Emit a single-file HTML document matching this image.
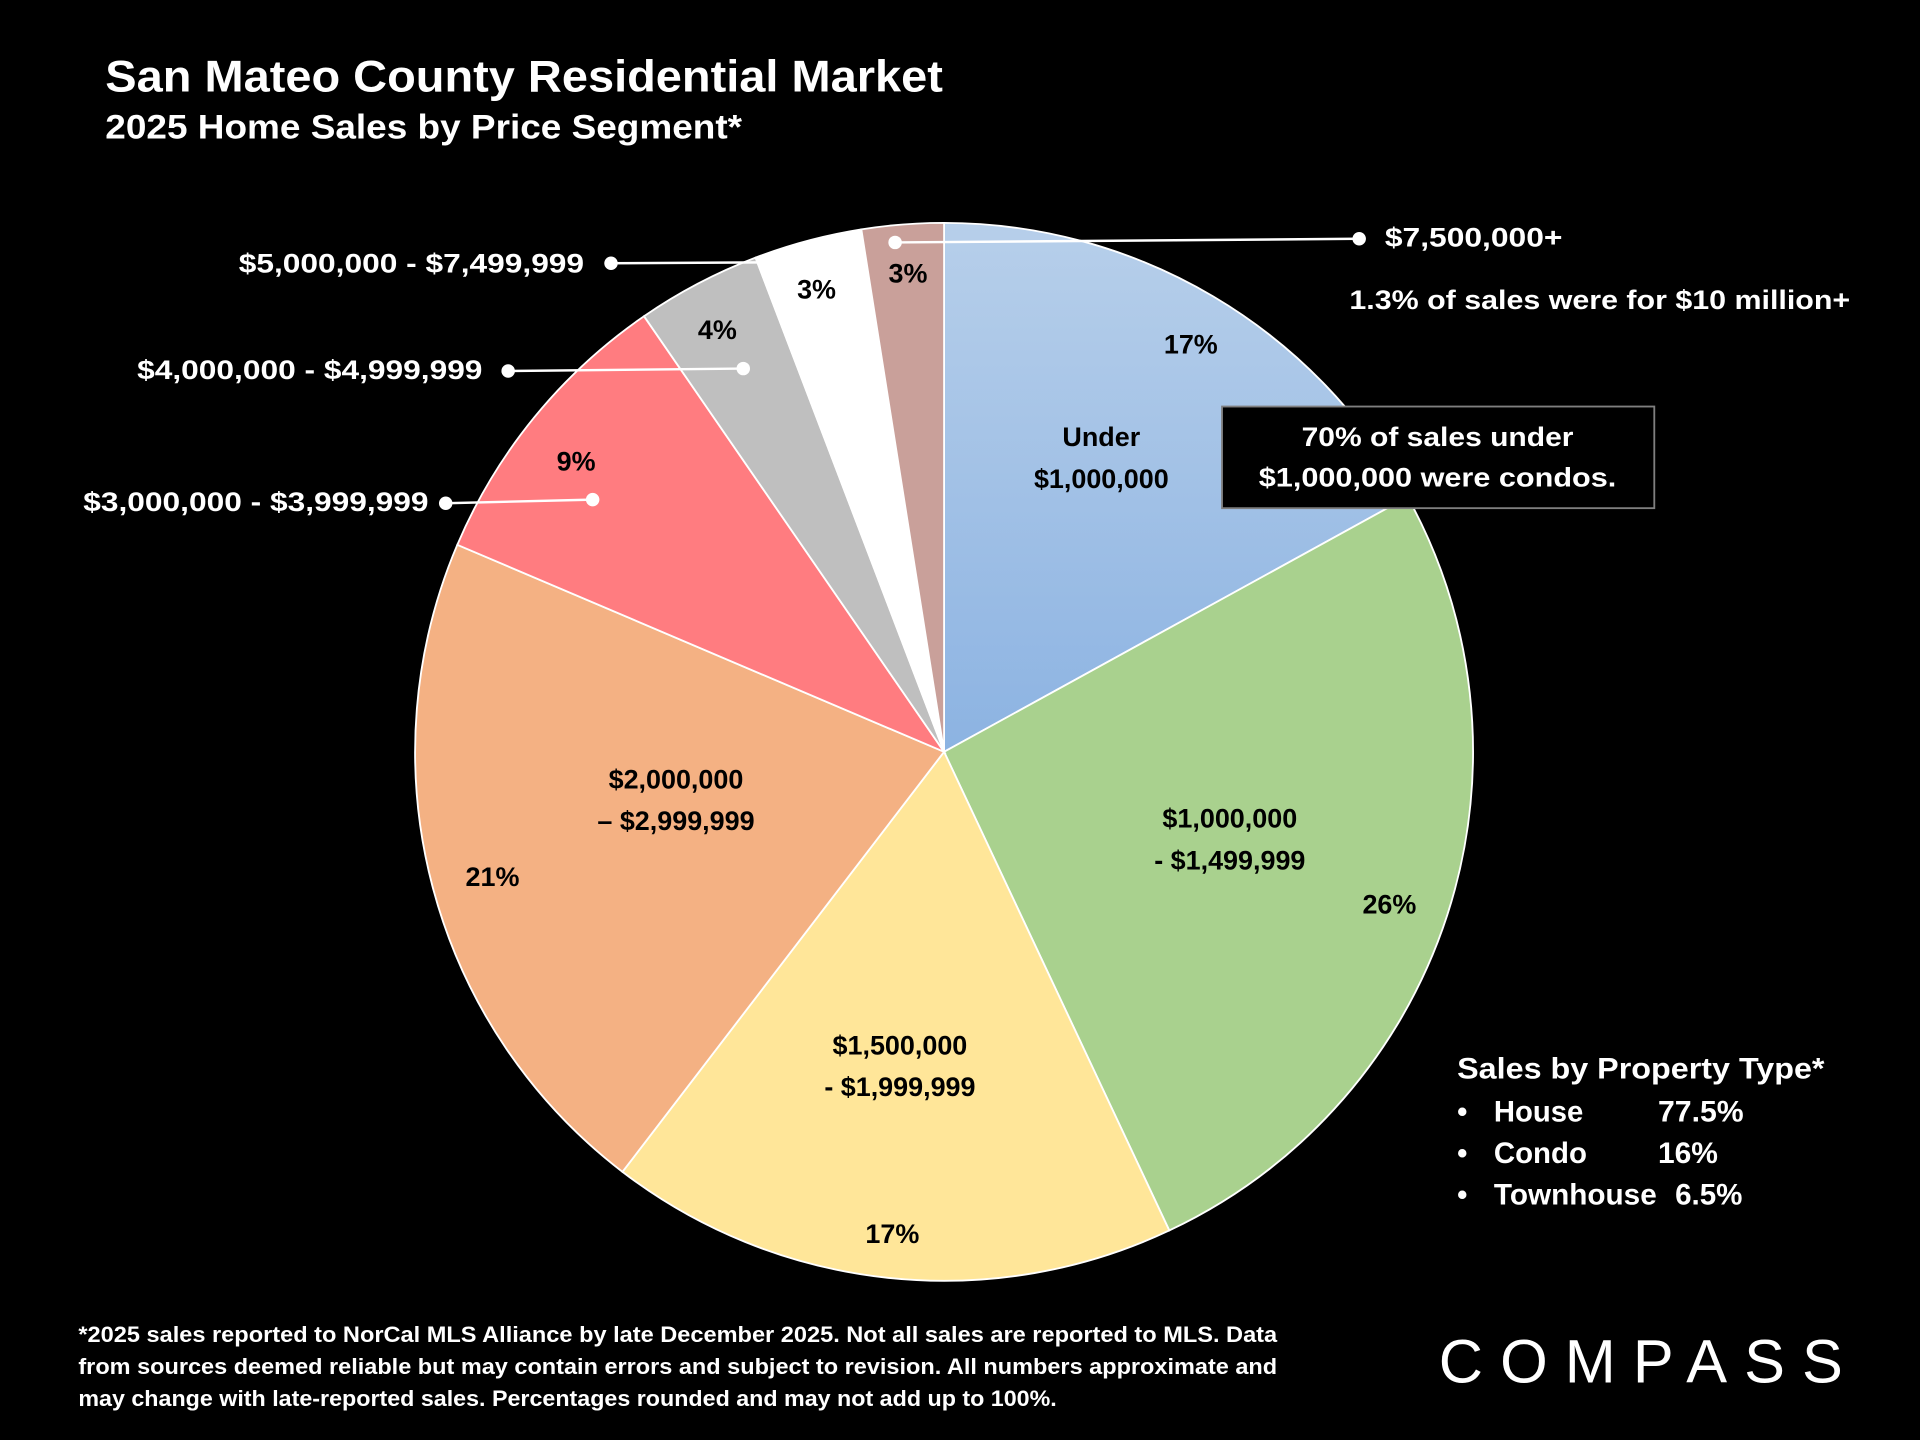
<!DOCTYPE html>
<html><head><meta charset="utf-8"><style>
html,body{margin:0;padding:0;background:#000;}
svg{display:block;}
text{font-family:"Liberation Sans",sans-serif;font-weight:bold;}
</style></head><body>
<svg id="chart" width="1920" height="1440" viewBox="0 0 1568 1176" xmlns="http://www.w3.org/2000/svg">
<defs>
<linearGradient id="blueGrad" x1="0" y1="0" x2="0" y2="1"><stop offset="0" stop-color="#b7cfea"/><stop offset="1" stop-color="#8cb3e2"/></linearGradient>
</defs>
<rect width="1568" height="1176" fill="#000"/>
<text x="86" y="63" font-size="36" fill="#fff" dominant-baseline="central" textLength="684" lengthAdjust="spacingAndGlyphs">San Mateo County Residential Market</text>
<text x="86" y="104" font-size="28" fill="#fff" dominant-baseline="central" textLength="520" lengthAdjust="spacingAndGlyphs">2025 Home Sales by Price Segment*</text>
<g id="slices"></g>
<g id="labels"></g>

<g>
<line x1="364" y1="411" x2="484" y2="408" stroke="#fff" stroke-width="2"/>
<circle cx="364" cy="411" r="5.5" fill="#fff"/><circle cx="484" cy="408" r="5.5" fill="#fff"/>
<text x="350" y="410" font-size="22" fill="#fff" text-anchor="end" dominant-baseline="central" textLength="282" lengthAdjust="spacingAndGlyphs">$3,000,000 - $3,999,999</text>
</g>
<g>
<line x1="415" y1="303" x2="607" y2="301" stroke="#fff" stroke-width="2"/>
<circle cx="415" cy="303" r="5.5" fill="#fff"/><circle cx="607" cy="301" r="5.5" fill="#fff"/>
<text x="394" y="302" font-size="22" fill="#fff" text-anchor="end" dominant-baseline="central" textLength="282" lengthAdjust="spacingAndGlyphs">$4,000,000 - $4,999,999</text>
</g>
<g>
<line x1="499" y1="215" x2="670" y2="214" stroke="#fff" stroke-width="2"/>
<circle cx="499" cy="215" r="5.5" fill="#fff"/><circle cx="670" cy="214" r="5.5" fill="#fff"/>
<text x="477" y="215" font-size="22" fill="#fff" text-anchor="end" dominant-baseline="central" textLength="282" lengthAdjust="spacingAndGlyphs">$5,000,000 - $7,499,999</text>
</g>
<g>
<line x1="731" y1="198" x2="1110" y2="195" stroke="#fff" stroke-width="2"/>
<circle cx="731" cy="198" r="5.5" fill="#fff"/><circle cx="1110" cy="195" r="5.5" fill="#fff"/>
<text x="1131" y="194" font-size="22" fill="#fff" dominant-baseline="central" textLength="145" lengthAdjust="spacingAndGlyphs">$7,500,000+</text>
</g>
<text x="1102" y="245" font-size="22" fill="#fff" dominant-baseline="central" textLength="409" lengthAdjust="spacingAndGlyphs">1.3% of sales were for $10 million+</text>

<g>
<rect x="998" y="332" width="353" height="83" fill="#000" stroke="#7f7f7f" stroke-width="1.5"/>
<text x="1174" y="357" font-size="22" fill="#fff" text-anchor="middle" dominant-baseline="central" textLength="222" lengthAdjust="spacingAndGlyphs">70% of sales under</text>
<text x="1174" y="390" font-size="22" fill="#fff" text-anchor="middle" dominant-baseline="central" textLength="292" lengthAdjust="spacingAndGlyphs">$1,000,000 were condos.</text>
</g>

<g fill="#fff" font-size="24">
<text x="1190" y="873" dominant-baseline="central" textLength="300" lengthAdjust="spacingAndGlyphs">Sales by Property Type*</text>
<text x="1190" y="908" dominant-baseline="central">•</text>
<text x="1220" y="908" dominant-baseline="central" textLength="73" lengthAdjust="spacingAndGlyphs">House</text>
<text x="1354" y="908" dominant-baseline="central" textLength="70" lengthAdjust="spacingAndGlyphs">77.5%</text>
<text x="1190" y="942" dominant-baseline="central">•</text>
<text x="1220" y="942" dominant-baseline="central" textLength="76" lengthAdjust="spacingAndGlyphs">Condo</text>
<text x="1354" y="942" dominant-baseline="central" textLength="49" lengthAdjust="spacingAndGlyphs">16%</text>
<text x="1190" y="976" dominant-baseline="central">•</text>
<text x="1220" y="976" dominant-baseline="central" textLength="133" lengthAdjust="spacingAndGlyphs">Townhouse</text>
<text x="1368" y="976" dominant-baseline="central" textLength="55" lengthAdjust="spacingAndGlyphs">6.5%</text>
</g>

<g fill="#fff" font-size="18">
<text x="64" y="1090" dominant-baseline="central" textLength="979" lengthAdjust="spacingAndGlyphs">*2025 sales reported to NorCal MLS Alliance by late December 2025. Not all sales are reported to MLS. Data</text>
<text x="64" y="1116" dominant-baseline="central" textLength="979" lengthAdjust="spacingAndGlyphs">from sources deemed reliable but may contain errors and subject to revision. All numbers approximate and</text>
<text x="64" y="1142" dominant-baseline="central" textLength="799" lengthAdjust="spacingAndGlyphs">may change with late-reported sales. Percentages rounded and may not add up to 100%.</text>
</g>
<text x="1175" y="1112" font-size="50" fill="#fff" style="font-weight:normal" dominant-baseline="central" textLength="330" lengthAdjust="spacing">COMPASS</text>
</svg>
<script>
const categories = ["Under $1,000,000","$1,000,000 - $1,499,999","$1,500,000 - $1,999,999","$2,000,000 – $2,999,999","$3,000,000 - $3,999,999","$4,000,000 - $4,999,999","$5,000,000 - $7,499,999","$7,500,000+"];
const shares = [17, 26, 17.4, 21, 9, 3.8, 3.3, 2.5];
const pctLabels = ["17%","26%","17%","21%","9%","4%","3%","3%"];
const colors = ["url(#blueGrad)","#a9d18e","#ffe699","#f4b183","#ff7c80","#bfbfbf","#ffffff","#c9a09a"];
const cx = 771, cy = 614, R = 432;
const NS = "http://www.w3.org/2000/svg";
const total = shares.reduce((a,b)=>a+b,0);
function pt(frac, r){const a=frac*2*Math.PI;return [cx+r*Math.sin(a), cy-r*Math.cos(a)];}
const sg=document.getElementById('slices'), lg=document.getElementById('labels');
let acc=0;
const pctR=[0.9,0.89,0.917,0.886,0.886,0.905,0.907,0.907];
const pctShift=[0.51,0.51,0.50,0.49,0.47,0.46,0.46,0.52];
const nameR=[0.63,0.565,0.60,0.515,0,0,0,0];
const nameShift=[0.46,0.49,0.53,0.56,0,0,0,0];
shares.forEach((v,i)=>{
  const f0=acc/total, f1=(acc+v)/total; acc+=v;
  const p0=pt(f0,R), p1=pt(f1,R), large=(f1-f0)>0.5?1:0;
  const path=document.createElementNS(NS,'path');
  path.setAttribute('d',`M${cx},${cy} L${p0[0]},${p0[1]} A${R},${R} 0 ${large} 1 ${p1[0]},${p1[1]} Z`);
  path.setAttribute('fill',colors[i]);path.setAttribute('stroke','#fff');path.setAttribute('stroke-width','1.5');
  
  
  sg.appendChild(path);
  const pp=pt(f0+(f1-f0)*pctShift[i],R*pctR[i]);
  const t=document.createElementNS(NS,'text');
  t.setAttribute('x',pp[0]);t.setAttribute('y',pp[1]);t.setAttribute('font-size','22');
  t.setAttribute('text-anchor','middle');t.setAttribute('dominant-baseline','central');t.setAttribute('fill','#000');
  t.textContent=pctLabels[i];
  
  
  lg.appendChild(t);
  if(nameR[i]>0){
    const np=pt(f0+(f1-f0)*nameShift[i],R*nameR[i]);
    let lines;
    if(i===0) lines=["Under","$1,000,000"];
    else {const s=categories[i]; const k=s.indexOf(' ',1); lines=[s.slice(0,k), s.slice(k+1)];}
    lines.forEach((ln,j)=>{
      const tt=document.createElementNS(NS,'text');
      tt.setAttribute('x',np[0]);tt.setAttribute('y',np[1]-17+j*34);tt.setAttribute('font-size','22');
      tt.setAttribute('text-anchor','middle');tt.setAttribute('dominant-baseline','central');tt.setAttribute('fill','#000');
      tt.textContent=ln;
      
      
      lg.appendChild(tt);
    });
  }
});
</script>
</body></html>
